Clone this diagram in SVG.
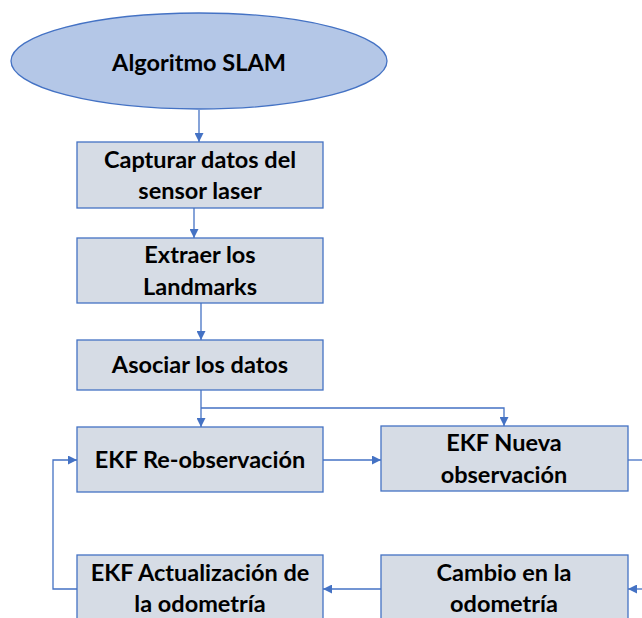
<svg xmlns="http://www.w3.org/2000/svg" width="642" height="618" viewBox="0 0 642 618">
<style>
.box{fill:#D6DCE5;stroke:#4472C4;stroke-width:1.3}
.ell{fill:#B4C7E7;stroke:#4472C4;stroke-width:1.3}
.t{font-family:Lato,"Open Sans","Liberation Sans",sans-serif;font-weight:bold;font-size:23.5px;fill:#000;text-anchor:middle}
.c{fill:none;stroke:#4472C4;stroke-width:1.3}
</style>
<defs>
<marker id="ah" viewBox="0 0 10 10" refX="10" refY="5" markerWidth="9" markerHeight="9" markerUnits="userSpaceOnUse" orient="auto">
<path d="M0,0 L10,5 L0,10 z" fill="#4472C4"/>
</marker>
</defs>
<rect width="642" height="618" fill="#fff"/>
<g id="connectors">
<path class="c" d="M199,110 V142" marker-end="url(#ah)"/>
<path class="c" d="M194,208 V238" marker-end="url(#ah)"/>
<path class="c" d="M201,303 V340" marker-end="url(#ah)"/>
<path class="c" d="M201,390 V427" marker-end="url(#ah)"/>
<path class="c" d="M201,408 H504 V426" marker-end="url(#ah)"/>
<path class="c" d="M323,460 H381" marker-end="url(#ah)"/>
<path class="c" d="M628,460 H642"/>
<path class="c" d="M642,589 H628" marker-end="url(#ah)"/>
<path class="c" d="M381,589 H323" marker-end="url(#ah)"/>
<path class="c" d="M77,589 H53 V460 H77" marker-end="url(#ah)"/>
</g>
<g id="n-slam">
<ellipse class="ell" cx="199" cy="61" rx="188" ry="48"/>
<text class="t" x="199" y="71">Algoritmo SLAM</text>
</g>
<g id="n-capturar">
<rect class="box" x="77" y="142" width="246" height="66"/>
<text class="t" x="200" y="168">Capturar datos del</text>
<text class="t" x="200" y="199">sensor laser</text>
</g>
<g id="n-extraer">
<rect class="box" x="77" y="238" width="246" height="65"/>
<text class="t" x="200" y="263">Extraer los</text>
<text class="t" x="200" y="295">Landmarks</text>
</g>
<g id="n-asociar">
<rect class="box" x="77" y="340" width="246" height="50"/>
<text class="t" x="200" y="373">Asociar los datos</text>
</g>
<g id="n-reobs">
<rect class="box" x="77" y="427" width="246" height="65"/>
<text class="t" x="200" y="468">EKF Re-observación</text>
</g>
<g id="n-nueva">
<rect class="box" x="381" y="426" width="247" height="65"/>
<text class="t" x="504" y="451">EKF Nueva</text>
<text class="t" x="504" y="483">observación</text>
</g>
<g id="n-actualizacion">
<rect class="box" x="77" y="555" width="246" height="70"/>
<text class="t" x="200" y="581">EKF Actualización de</text>
<text class="t" x="200" y="612">la odometría</text>
</g>
<g id="n-cambio">
<rect class="box" x="381" y="555" width="247" height="70"/>
<text class="t" x="504" y="581">Cambio en la</text>
<text class="t" x="504" y="612">odometría</text>
</g>
</svg>
